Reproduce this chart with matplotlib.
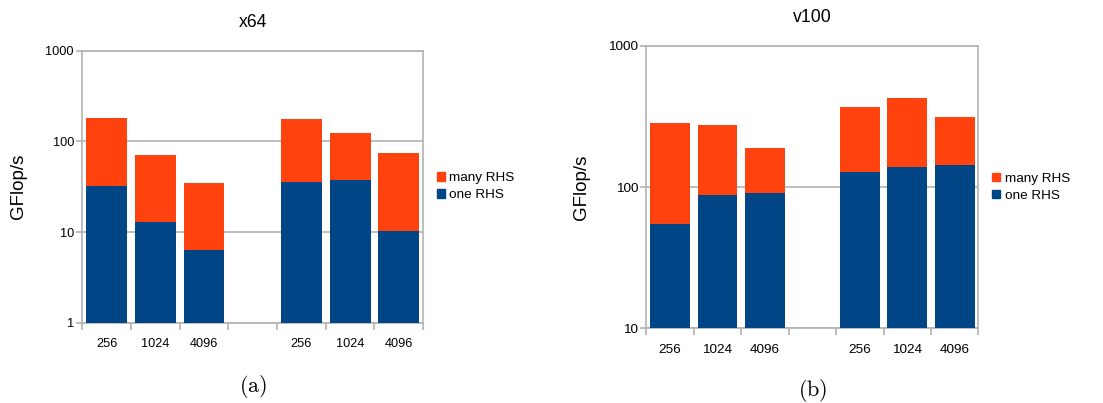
import numpy as np
import matplotlib.pyplot as plt
from matplotlib.patches import Patch

plt.rcParams['font.family'] = ['Liberation Sans', 'DejaVu Sans']
plt.rcParams['mathtext.fontset'] = 'cm'

sizes = ['256', '1024', '4096', '', '256', '1024', '4096']

# GFlop/s, the empty slot separates the two groups
x64_one = [32, 13, 6.4, 0, 35.6, 37.5, 10.3]
x64_many = [181, 70.7, 34.7, 0, 176, 124, 74.3]
v100_one = [54.7, 87.8, 90.7, 0, 128, 139, 143]
v100_many = [284, 275, 189, 0, 368, 426, 313]

BLUE = '#004586'
ORANGE = '#ff420e'
GRAY = '#b3b3b3'

fig = plt.figure(figsize=(11.03, 4.03), dpi=100)


def panel(rect, one, many, ylim, title, title_pad, caption, cap_y, fs):
    ax = fig.add_axes(rect)
    x = np.arange(len(sizes))
    keep = np.array(many) > 0
    ax.bar(x[keep], np.array(many)[keep], width=0.84, color=ORANGE, zorder=2)
    ax.bar(x[keep], np.array(one)[keep], width=0.84, color=BLUE, zorder=3)
    ax.set_yscale('log')
    ax.set_ylim(*ylim)
    ax.set_xlim(-0.5, len(sizes) - 0.5)
    ax.yaxis.grid(True, which='major', color=GRAY, lw=1.2, zorder=0)
    ax.minorticks_off()
    yt = [t for t in [1, 10, 100, 1000] if ylim[0] <= t <= ylim[1]]
    ax.set_yticks(yt)
    ax.set_yticklabels([str(t) for t in yt])
    ax.set_xticks(x)
    ax.set_xticklabels(sizes)
    ax.set_xticks(np.arange(len(sizes) + 1) - 0.5, minor=True)
    ax.tick_params(axis='x', which='major', length=0, pad=11, labelsize=fs)
    ax.tick_params(axis='x', which='minor', length=5, color=GRAY, width=1.2)
    ax.tick_params(axis='y', which='major', length=4, color=GRAY, width=1.2,
                   pad=2, labelsize=fs)
    for s in ax.spines.values():
        s.set_color(GRAY)
        s.set_linewidth(1.2)
    ax.set_title(title, fontsize=12.7, pad=title_pad)
    ax.set_ylabel('GFlop/s', fontsize=13.5, labelpad=13)
    handles = [Patch(color=ORANGE, label='many RHS'), Patch(color=BLUE, label='one RHS')]
    ax.legend(handles=handles, loc='center left', bbox_to_anchor=(1.0, 0.5),
              frameon=False, fontsize=9.7, handlelength=0.6, handleheight=0.6,
              handletextpad=0.35, labelspacing=0.35, borderaxespad=0.6)
    cx = rect[0] + rect[2] / 2
    fig.text(cx, cap_y, caption, ha='center', va='center', fontsize=16)
    return ax


panel([0.0746, 0.199, 0.309, 0.675], x64_one, x64_many, (1, 1000),
      'x64', 17, r'$\mathrm{(a)}$', 1 - 386 / 403, 9.2)
panel([0.586, 0.185, 0.301, 0.701], v100_one, v100_many, (10, 1000),
      'v100', 17, r'$\mathrm{(b)}$', 1 - 390 / 403, 9.7)

fig.savefig('out.png', dpi=100)
